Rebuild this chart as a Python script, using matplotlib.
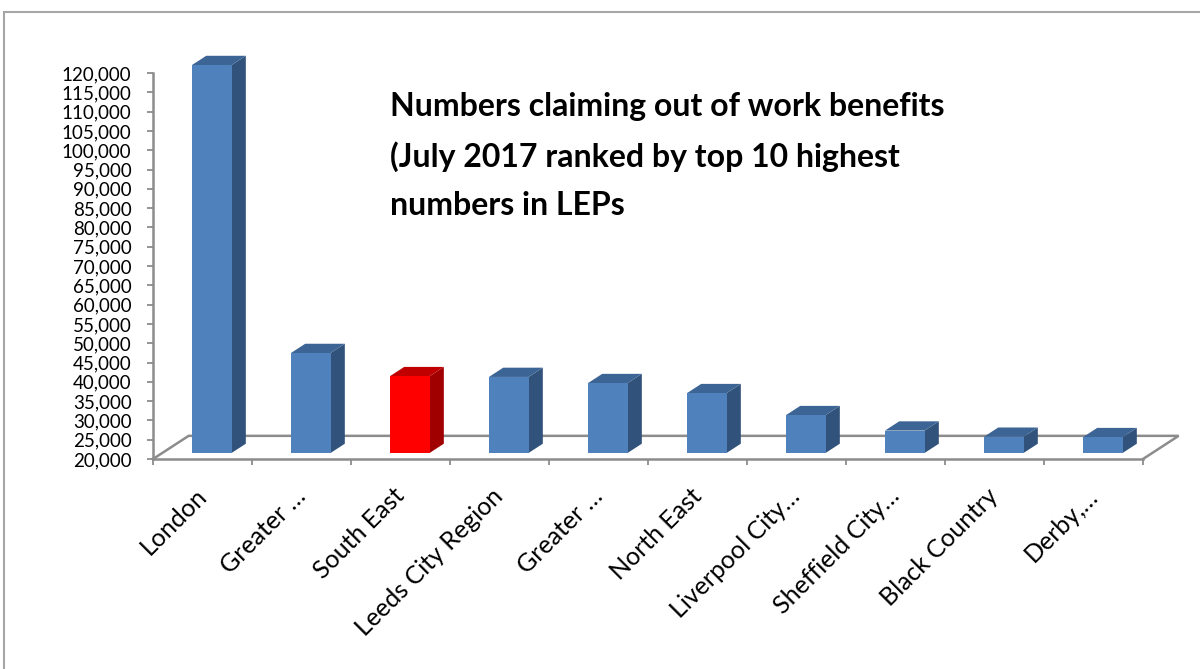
import numpy as np
import matplotlib
matplotlib.use('Agg')
from matplotlib import pyplot as plt
from matplotlib.patches import Polygon, Rectangle
from matplotlib.ticker import FuncFormatter
from matplotlib.transforms import ScaledTranslation

# top 10 LEPs by out-of-work benefit claimants, July 2017
regions = ['London', 'Greater …', 'South East', 'Leeds City Region', 'Greater …',
           'North East', 'Liverpool City…', 'Sheffield City…', 'Black Country', 'Derby,…']
claimants = [120500, 45900, 39900, 39700, 38100, 35500, 29800, 25800, 24200, 24100]
highlight = 2  # South East

y_min, y_max, y_step = 20000, 120000, 5000

title = ('Numbers claiming out of work benefits\n'
         '(July 2017 ranked by top 10 highest\n'
         'numbers in LEPs')

plt.rcParams['font.family'] = ['Lato', 'DejaVu Sans']

W, H = 1200, 669
fig = plt.figure(figsize=(W / 100, H / 100), dpi=100)
ax = fig.add_axes([153 / W, (H - 459) / H, (1143 - 153) / W, (459 - 73) / H])
n = len(regions)
ax.set_xlim(0, n)
ax.set_ylim(y_min, y_max)

grey = '#8c8c8c'

# fake 3d floor: depth offset in data units
floor_dx = 0.36
floor_dy = 6000
bar_pos = 0.26   # bar front sits this far back into the floor
bar_w = 0.40
bar_d = 0.40     # bar depth as a share of the floor depth

ax.plot([0, floor_dx, n + floor_dx, n],
        [y_min, y_min + floor_dy, y_min + floor_dy, y_min],
        color=grey, lw=1.8, zorder=1, clip_on=False, solid_joinstyle='miter')

blue = ('#4f81bd', '#3c6494', '#31527a')
red = ('#ff0000', '#c00000', '#a00000')

ddx = bar_d * floor_dx
ddy = bar_d * floor_dy
for i, val in enumerate(claimants):
    front_c, top_c, side_c = red if i == highlight else blue
    x0 = i + 0.5 - bar_w / 2 + bar_pos * floor_dx
    y0 = y_min + bar_pos * floor_dy
    y1 = val + bar_pos * floor_dy
    x1 = x0 + bar_w
    side = Polygon([(x1, y0), (x1 + ddx, y0 + ddy), (x1 + ddx, y1 + ddy), (x1, y1)],
                   closed=True, fc=side_c, ec='none', zorder=3, clip_on=False)
    top = Polygon([(x0, y1), (x1, y1), (x1 + ddx, y1 + ddy), (x0 + ddx, y1 + ddy)],
                  closed=True, fc=top_c, ec='none', zorder=3, clip_on=False)
    front = Rectangle((x0, y0), bar_w, y1 - y0, fc=front_c, ec='none',
                      zorder=4, clip_on=False)
    for p in (side, top, front):
        ax.add_patch(p)

for s in ('top', 'right'):
    ax.spines[s].set_visible(False)
for s in ('left', 'bottom'):
    ax.spines[s].set_color(grey)
    ax.spines[s].set_linewidth(1.8)
    ax.spines[s].set_zorder(2)

ax.set_yticks(np.arange(y_min, y_max + 1, y_step))
ax.yaxis.set_major_formatter(FuncFormatter(lambda v, p: f'{v:,.0f}'))
ax.tick_params(axis='y', length=4.5, width=1.3, color=grey, pad=11, labelsize=13.5)

ax.set_xticks(np.arange(0, n + 1))
ax.set_xticklabels([])
ax.set_xticks(np.arange(n) + 0.5, minor=True)
ax.set_xticklabels(regions, minor=True, rotation=45, ha='right',
                   rotation_mode='anchor', fontsize=18)
ax.tick_params(axis='x', which='major', length=4.5, width=1.3, color=grey)
ax.tick_params(axis='x', which='minor', length=0, pad=18)
# nudge the slanted labels a little to the left
shift = ScaledTranslation(-0.08, 0, fig.dpi_scale_trans)
for lab in ax.get_xticklabels(minor=True):
    lab.set_transform(lab.get_transform() + shift)

fig.text(390 / W, 1 - 92 / H, title, fontsize=23, fontweight='bold',
         ha='left', va='top', linespacing=1.8)

# chart border
fig.add_artist(Rectangle((4 / W, -0.1), 1.2, 1.1 - 12 / H, transform=fig.transFigure,
                         fill=False, ec='#a6a6a6', lw=1.5))

fig.savefig('out.png', dpi=100)
